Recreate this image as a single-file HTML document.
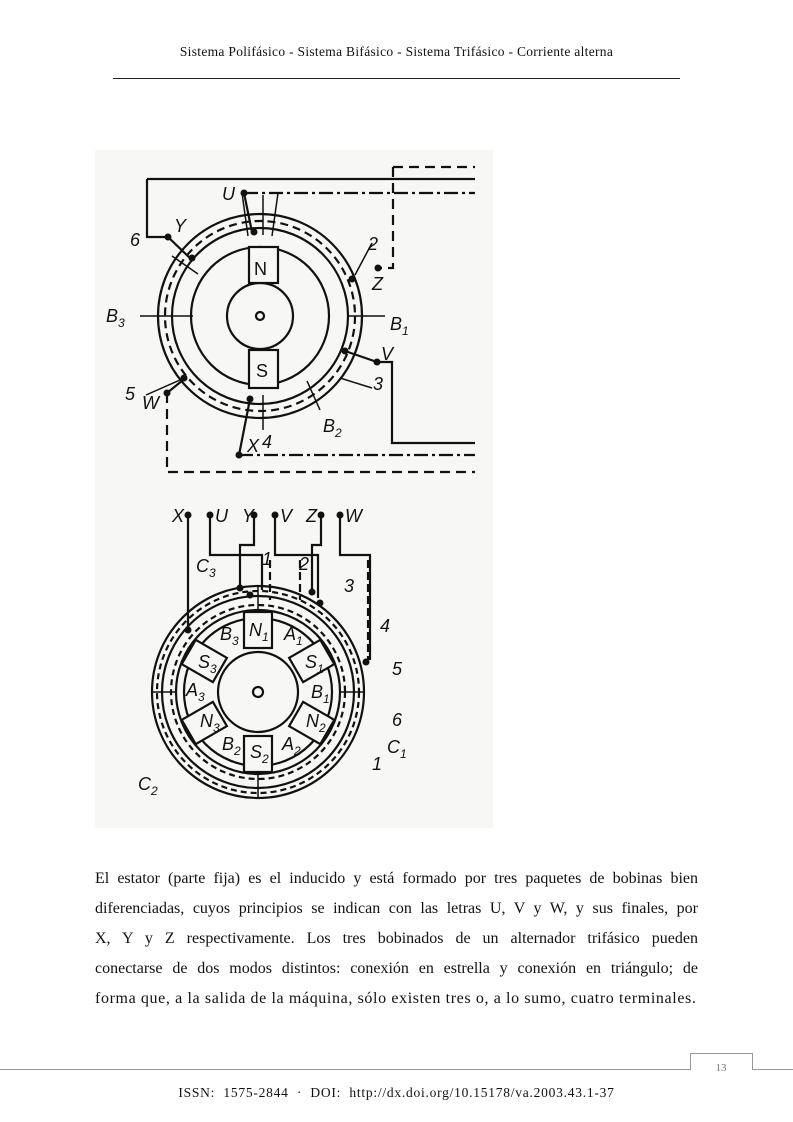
<!DOCTYPE html>
<html><head><meta charset="utf-8"><style>
html,body{margin:0;padding:0;background:#fff;}
body{width:793px;height:1122px;position:relative;overflow:hidden;font-family:"Liberation Serif",serif;color:#111;}
.hdr{position:absolute;top:44px;left:0;width:793px;text-align:center;font-size:13.5px;letter-spacing:0.3px;}
.hl{position:absolute;top:78px;left:113px;width:567px;height:1px;background:#222;}
.txt{position:absolute;top:864px;left:95px;width:603px;font-size:16px;line-height:30px;}
.txt div{text-align:justify;text-align-last:justify;white-space:nowrap;}
.txt div.l{text-align-last:left;}
.ft{position:absolute;top:1085px;left:0;width:793px;text-align:center;font-size:13.5px;letter-spacing:0.75px;}
</style></head><body>
<div class="hdr">Sistema Polifásico - Sistema Bifásico - Sistema Trifásico - Corriente alterna</div>
<div class="hl"></div>
<svg width="793" height="1122" style="position:absolute;left:0;top:0" font-family="Liberation Sans,sans-serif" font-style="italic">
<rect x="95" y="150" width="398" height="678" fill="#f7f7f5"/>
<g fill="none" stroke="#111" stroke-width="2.2">
<circle cx="260" cy="316" r="102"/>
<circle cx="260" cy="316" r="95" stroke-dasharray="8,5"/>
<circle cx="260" cy="316" r="88"/>
<circle cx="260" cy="316" r="69"/>
<circle cx="260" cy="316" r="33"/>
<circle cx="260" cy="316" r="4"/>
<rect x="249" y="247" width="29" height="36" fill="#f7f7f5"/>
<rect x="249" y="350" width="29" height="38" fill="#f7f7f5"/>
<path d="M147 179 H475 M147 179 V237 H168"/>
<path d="M393 167 H475 M393 167 V268 H378" stroke-dasharray="10,6"/>
<path d="M244 193 H475" stroke-dasharray="14,4,3,4"/>
<path d="M377 362 H392 V443 H475"/>
<path d="M239 455 H475" stroke-dasharray="14,4,3,4"/>
<path d="M167 393 V472 H475" stroke-dasharray="10,6"/>
<path d="M244 193 L252 232 M168 237 L192 260 M377 362 L345 351 M239 455 L250 399 M167 393 L183 380"/>
<path d="M242 193 L248 236 M278 193 L272 236 M263 195 V235 M263 395 V430" stroke-width="1.5"/>
<path d="M198 274 L172 256 M355 275 L372 243 M340 378 L372 388 M180 380 L146 395 M193 316 H140 M349 316 H385 M307 381 L320 410" stroke-width="1.5"/>
<circle cx="258" cy="692" r="106"/>
<circle cx="258" cy="692" r="101" stroke-dasharray="6,4"/>
<circle cx="258" cy="692" r="96"/>
<circle cx="258" cy="692" r="87" stroke-dasharray="6,4"/>
<circle cx="258" cy="692" r="82"/>
<circle cx="258" cy="692" r="74"/>
<circle cx="258" cy="692" r="40"/>
<circle cx="258" cy="692" r="5"/>
<g fill="#f7f7f5">
<rect x="244" y="612" width="28" height="36"/>
<rect x="244" y="612" width="28" height="36" transform="rotate(60 258 692)"/>
<rect x="244" y="612" width="28" height="36" transform="rotate(120 258 692)"/>
<rect x="244" y="612" width="28" height="36" transform="rotate(180 258 692)"/>
<rect x="244" y="612" width="28" height="36" transform="rotate(240 258 692)"/>
<rect x="244" y="612" width="28" height="36" transform="rotate(300 258 692)"/>
</g>
<path d="M188 515 V630 M210 515 V555 H262 V590 M254 515 V545 H240 V588 M275 515 V555 H318 V598 M321 515 V545 H312 V592 M340 515 V555 H370 V660" />
<path d="M270 560 V600 M300 560 V600 M368 560 V660" stroke-dasharray="8,4"/>
<path d="M152 692 H175 M341 692 H364 M258 586 V612 M258 772 V798" stroke-width="1.5"/>
</g>
<g fill="#111">
<circle cx="244" cy="193" r="3.5"/><circle cx="254" cy="232" r="3.5"/><circle cx="168" cy="237" r="3.5"/><circle cx="192" cy="258" r="3.5"/>
<circle cx="378" cy="268" r="3.5"/><circle cx="352" cy="279" r="3.5"/><circle cx="377" cy="362" r="3.5"/><circle cx="345" cy="351" r="3.5"/>
<circle cx="167" cy="393" r="3.5"/><circle cx="184" cy="378" r="3.5"/><circle cx="239" cy="455" r="3.5"/><circle cx="250" cy="399" r="3.5"/>
<circle cx="188" cy="515" r="3.5"/><circle cx="210" cy="515" r="3.5"/><circle cx="254" cy="515" r="3.5"/><circle cx="275" cy="515" r="3.5"/><circle cx="321" cy="515" r="3.5"/><circle cx="340" cy="515" r="3.5"/>
<circle cx="240" cy="588" r="3.5"/><circle cx="250" cy="595" r="3.5"/><circle cx="312" cy="592" r="3.5"/><circle cx="320" cy="603" r="3.5"/><circle cx="188" cy="630" r="3.5"/><circle cx="366" cy="662" r="3.5"/>
<g font-size="18">
<text x="222" y="200">U</text><text x="174" y="232">Y</text><text x="130" y="246">6</text><text x="368" y="250">2</text><text x="372" y="290">Z</text>
<text x="106" y="322">B<tspan font-size="12" dy="5">3</tspan></text><text x="390" y="330">B<tspan font-size="12" dy="5">1</tspan></text>
<text x="381" y="360">V</text><text x="373" y="390">3</text><text x="125" y="400">5</text><text x="142" y="409">W</text>
<text x="323" y="432">B<tspan font-size="12" dy="5">2</tspan></text><text x="247" y="452">X</text><text x="262" y="448">4</text>
<text x="254" y="275" font-style="normal">N</text><text x="256" y="377" font-style="normal">S</text>
<text x="172" y="522">X</text><text x="215" y="522">U</text><text x="242" y="522">Y</text><text x="280" y="522">V</text><text x="306" y="522">Z</text><text x="345" y="522">W</text>
<text x="196" y="572">C<tspan font-size="12" dy="5">3</tspan></text><text x="262" y="565">1</text><text x="299" y="570">2</text><text x="344" y="592">3</text><text x="380" y="632">4</text><text x="392" y="675">5</text><text x="392" y="726">6</text>
<text x="387" y="753">C<tspan font-size="12" dy="5">1</tspan></text><text x="372" y="770">1</text><text x="138" y="790">C<tspan font-size="12" dy="5">2</tspan></text>
<text x="220" y="640">B<tspan font-size="12" dy="5">3</tspan></text><text x="249" y="636">N<tspan font-size="12" dy="5">1</tspan></text><text x="284" y="640">A<tspan font-size="12" dy="5">1</tspan></text>
<text x="198" y="668">S<tspan font-size="12" dy="5">3</tspan></text><text x="305" y="668">S<tspan font-size="12" dy="5">1</tspan></text>
<text x="186" y="696">A<tspan font-size="12" dy="5">3</tspan></text><text x="311" y="698">B<tspan font-size="12" dy="5">1</tspan></text>
<text x="200" y="727">N<tspan font-size="12" dy="5">3</tspan></text><text x="306" y="727">N<tspan font-size="12" dy="5">2</tspan></text>
<text x="222" y="750">B<tspan font-size="12" dy="5">2</tspan></text><text x="250" y="758">S<tspan font-size="12" dy="5">2</tspan></text><text x="282" y="750">A<tspan font-size="12" dy="5">2</tspan></text>
</g></g>
<g fill="none" stroke="#999" stroke-width="1">
<path d="M0 1069.5 H690.5 V1053.5 H752.5 V1069.5 H793"/>
</g>
<text x="721" y="1071" font-family="Liberation Serif,serif" font-style="normal" font-size="11" fill="#777" text-anchor="middle">13</text>
</svg>
<div class="txt">
<div>El estator (parte fija) es el inducido y está formado por tres paquetes de bobinas bien</div>
<div>diferenciadas, cuyos principios se indican con las letras U, V y W, y sus finales, por</div>
<div>X, Y y Z respectivamente. Los tres bobinados de un alternador trifásico pueden</div>
<div>conectarse de dos modos distintos: conexión en estrella y conexión en triángulo; de</div>
<div class="l" style="letter-spacing:0.62px">forma que, a la salida de la máquina, sólo existen tres o, a lo sumo, cuatro terminales.</div>
</div>
<div class="ft">ISSN: &nbsp;1575-2844 &nbsp;· &nbsp;DOI: &nbsp;http://dx.doi.org/10.15178/va.2003.43.1-37</div>
</body></html>
